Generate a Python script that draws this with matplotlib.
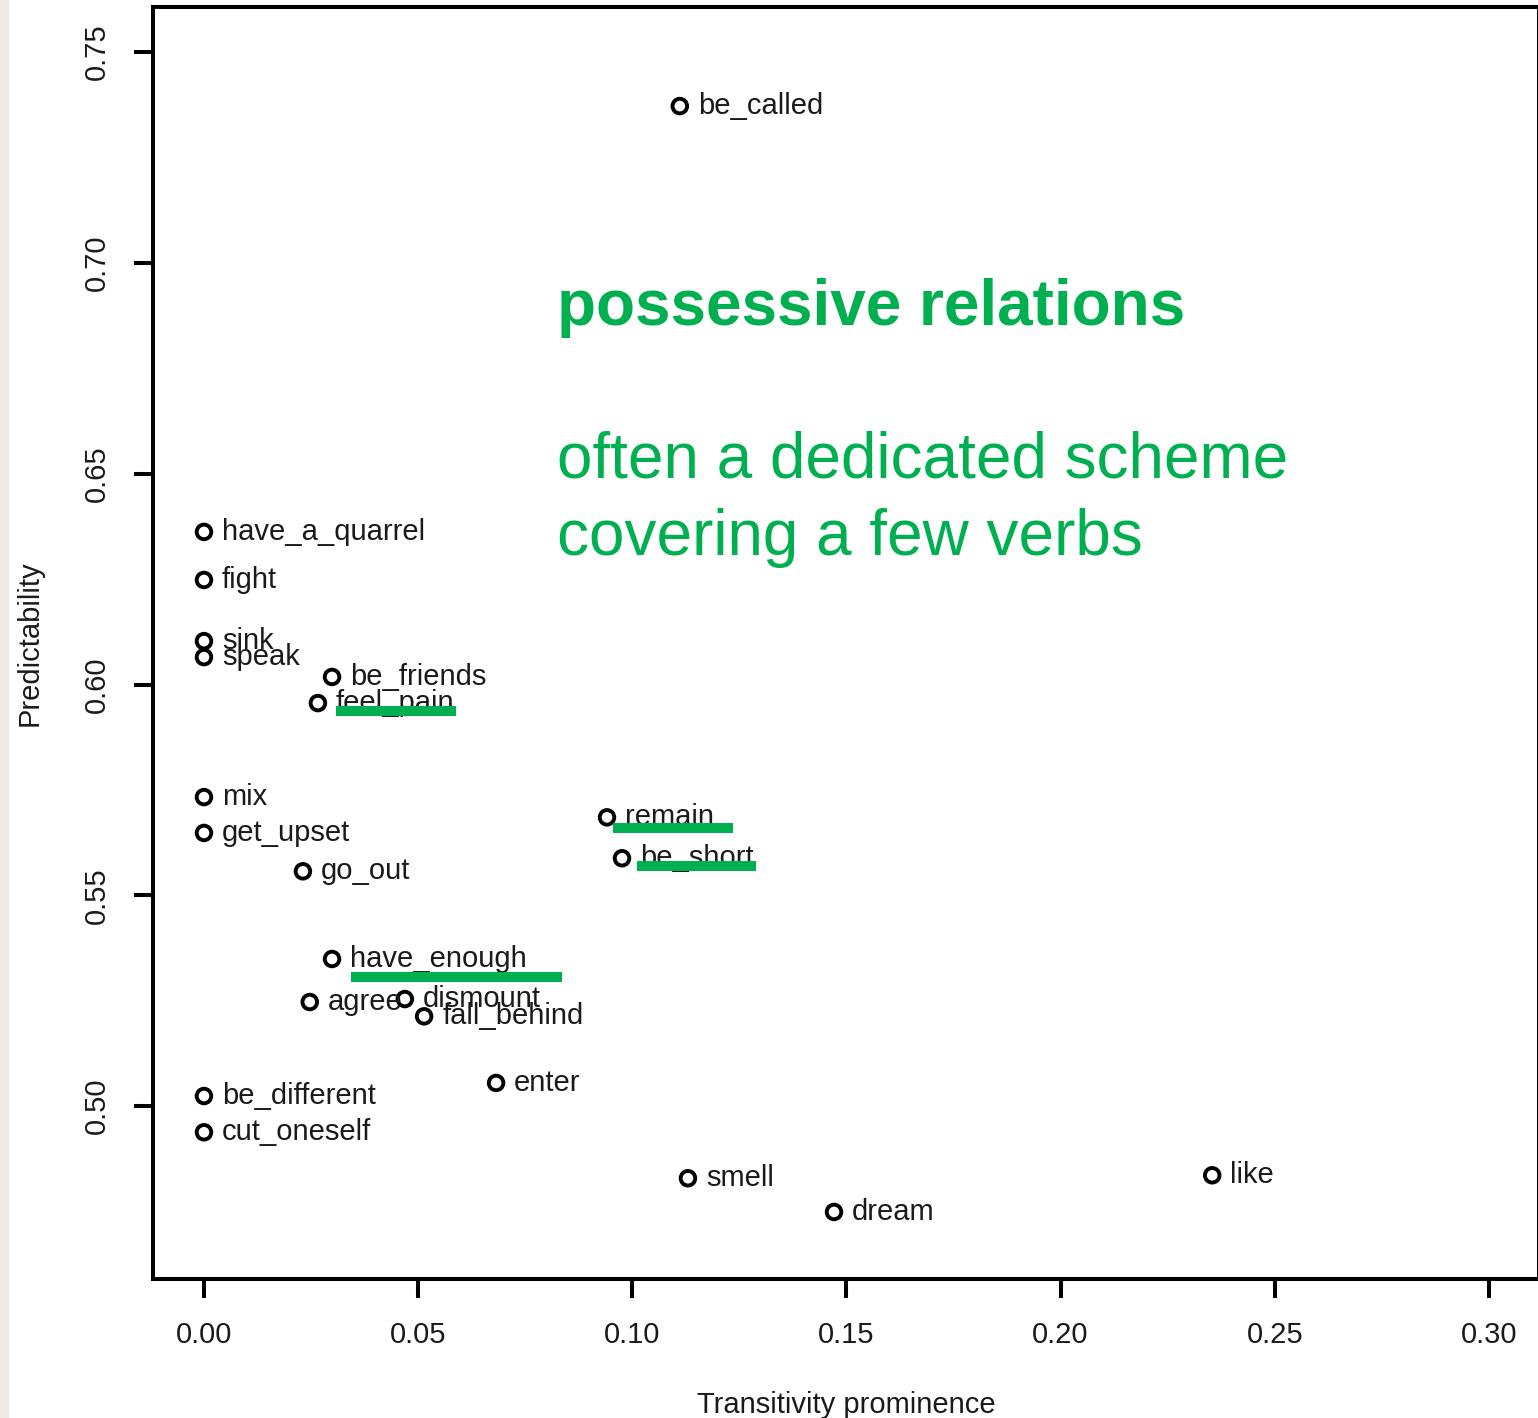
import matplotlib
matplotlib.use("Agg")
import matplotlib.pyplot as plt
from matplotlib.lines import Line2D
from matplotlib.patches import Rectangle
from matplotlib.transforms import IdentityTransform

plt.rcParams['font.family'] = ['Liberation Sans', 'DejaVu Sans']

# verbs with transitivity prominence (x) and predictability (y)
verbs = ['be_called', 'have_a_quarrel', 'fight', 'sink', 'speak', 'be_friends',
         'feel_pain', 'mix', 'get_upset', 'go_out', 'remain', 'be_short',
         'have_enough', 'agree', 'dismount', 'fall_behind', 'enter',
         'be_different', 'cut_oneself', 'smell', 'dream', 'like']
prominence = [0.1111, 0.0, 0.0, 0.0, 0.0, 0.0299,
              0.0266, 0.0, 0.0, 0.0231, 0.0941, 0.0976,
              0.0299, 0.0247, 0.0469, 0.0514, 0.0682,
              0.0, 0.0, 0.1130, 0.1471, 0.2354]
predictability = [0.7372, 0.6362, 0.6248, 0.6103, 0.6065, 0.6018,
                  0.5956, 0.5733, 0.5648, 0.5557, 0.5685, 0.5588,
                  0.5349, 0.5247, 0.5254, 0.5213, 0.5055,
                  0.5024, 0.4938, 0.4829, 0.4749, 0.4836]

x_ticks = [0.00, 0.05, 0.10, 0.15, 0.20, 0.25, 0.30]
y_ticks = [0.50, 0.55, 0.60, 0.65, 0.70, 0.75]

# verbs that get a green underline: (verb, start shift, end shift, drop) in px
underlined = [('feel_pain', 0, 1, 8),
              ('remain', -12, 19, 11),
              ('be_short', -3, 2, 8),
              ('have_enough', 1, 35, 18)]

green = '#00B050'
W, H = 1538, 1418
fig = plt.figure(figsize=(W / 100, H / 100), dpi=100)
fig.patches.append(Rectangle((0, 0), 8 / W, 1, transform=fig.transFigure,
                             color='#EEEBE4', zorder=0))

ax = fig.add_axes([153 / W, 1 - 1279 / H, 1386 / W, 1272 / H])
ax.scatter(prominence, predictability, s=110, facecolors='none',
           edgecolors='black', linewidths=2.8, zorder=3)

labels = {}
for v, px, py in zip(verbs, prominence, predictability):
    labels[v] = ax.annotate(v, (px, py), xytext=(13, 0), textcoords='offset points',
                            va='center', ha='left', fontsize=21, color='#1a1a1a')

ax.set_xlim(-0.0119, 0.3117)
ax.set_ylim(0.4590, 0.7607)
ax.set_xticks(x_ticks)
ax.set_xticklabels(['%.2f' % t for t in x_ticks])
ax.set_yticks(y_ticks)
ax.set_yticklabels(['%.2f' % t for t in y_ticks], rotation=90, va='center')
ax.tick_params(axis='both', length=14, width=2.9, labelsize=21, pad=16,
               colors='black', labelcolor='#1a1a1a')
for sp in ax.spines.values():
    sp.set_linewidth(2.9)

ax.set_xlabel('Transitivity prominence', fontsize=21, color='#1a1a1a')
ax.xaxis.set_label_coords(0.5, -0.0991)
ax.xaxis.label.set_va('center')
ax.set_ylabel('Predictability', fontsize=21, color='#1a1a1a')
ax.yaxis.set_label_coords(-0.0887, 0.5)
ax.yaxis.label.set_va('center')

# green annotation text
fig.text(557 / W, 1 - 325 / H, 'possessive relations', color=green,
         fontsize=46, fontweight='bold', va='baseline', ha='left')
fig.text(557 / W, 1 - 478 / H, 'often a dedicated scheme', color=green,
         fontsize=46, va='baseline', ha='left')
fig.text(557 / W, 1 - 555 / H, 'covering a few verbs', color=green,
         fontsize=46, va='baseline', ha='left')

# underline selected labels using their rendered extents
fig.canvas.draw()
renderer = fig.canvas.get_renderer()
for v, s0, s1, drop in underlined:
    bb = labels[v].get_window_extent(renderer)
    _, yc = ax.transData.transform((prominence[verbs.index(v)],
                                    predictability[verbs.index(v)]))
    fig.add_artist(Line2D([bb.x0 + s0, bb.x1 + s1], [yc - drop, yc - drop],
                          transform=IdentityTransform(), color=green,
                          linewidth=7.2, solid_capstyle='butt', zorder=5))

fig.savefig('out.png', dpi=100)
